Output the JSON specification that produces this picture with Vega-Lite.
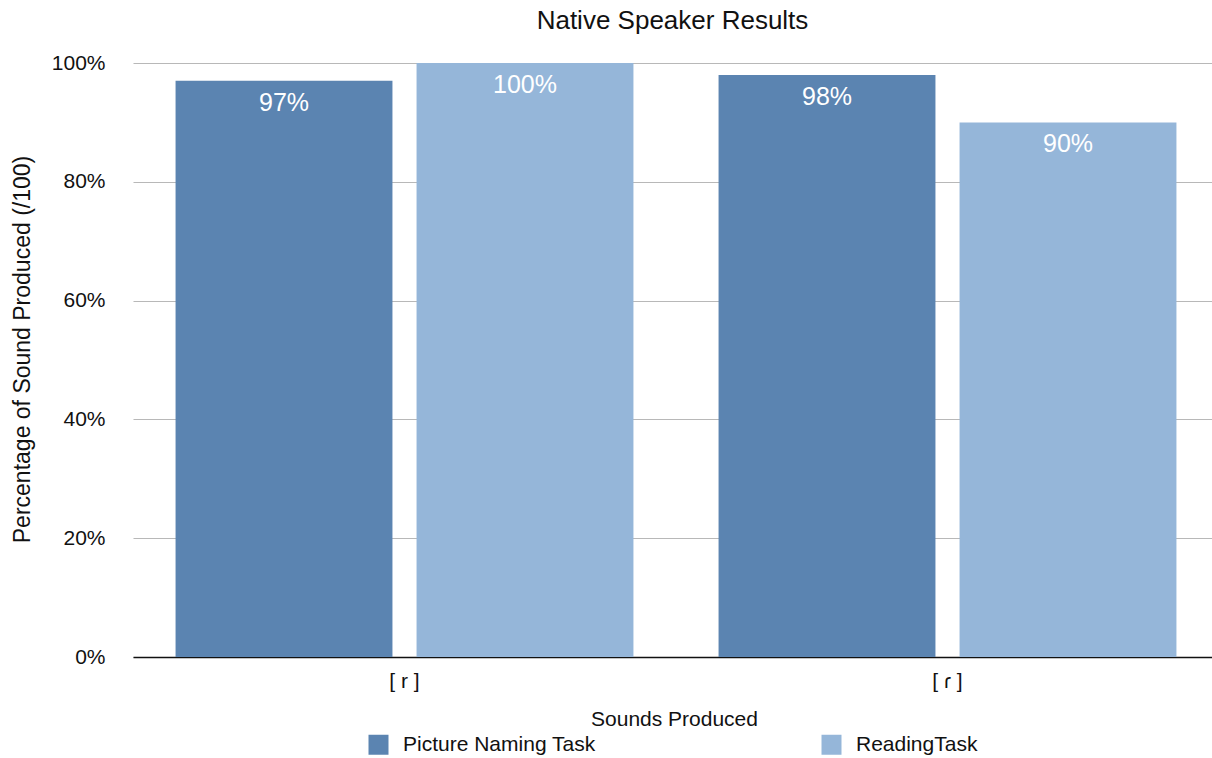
{
  "$schema": "https://vega.github.io/schema/vega-lite/v6.json",
  "width": 1079,
  "height": 594,
  "autosize": {"type": "none"},
  "padding": {"left": 133, "top": 63, "right": 0, "bottom": 101},
  "background": "white",
  "config": {
    "font": "Liberation Sans",
    "view": {"stroke": null}
  },
  "title": {
    "text": "Native Speaker Results",
    "fontSize": 26,
    "fontWeight": "normal",
    "color": "#111",
    "anchor": "middle",
    "offset": 18
  },
  "data": {
    "values": [
      {"sound": "[ r ]", "task": "Picture Naming Task", "value": 0.97},
      {"sound": "[ r ]", "task": "ReadingTask", "value": 1.0},
      {"sound": "[ ɾ ]", "task": "Picture Naming Task", "value": 0.98},
      {"sound": "[ ɾ ]", "task": "ReadingTask", "value": 0.9}
    ]
  },
  "encoding": {
    "x": {
      "field": "sound",
      "type": "nominal",
      "sort": null,
      "scale": {"paddingInner": 0, "paddingOuter": 0, "range": [0, 1086]},
      "axis": {
        "title": "Sounds Produced",
        "titleFontSize": 21,
        "titleFontWeight": "normal",
        "titleColor": "#111",
        "titleY": 62,
        "titleX": 541,
        "titleBaseline": "middle",
        "labelAngle": 0,
        "labelFontSize": 21,
        "labelColor": "#111",
        "labelPadding": 13,
        "ticks": false,
        "domainColor": "#111",
        "domainWidth": 1.5
      }
    },
    "xOffset": {
      "field": "task",
      "type": "nominal",
      "sort": null,
      "scale": {"paddingInner": 0.1, "paddingOuter": 0.1766}
    },
    "y": {
      "field": "value",
      "type": "quantitative",
      "scale": {"domain": [0, 1], "nice": false},
      "axis": {
        "title": "Percentage of Sound Produced (/100)",
        "titleFontSize": 23,
        "titleFontWeight": "normal",
        "titleColor": "#111",
        "titleX": -111,
        "titleY": 286,
        "titleAlign": "center",
        "titleBaseline": "middle",
        "format": ".0%",
        "values": [0, 0.2, 0.4, 0.6, 0.8, 1.0],
        "labelFontSize": 21,
        "labelColor": "#111",
        "labelPadding": 28,
        "ticks": false,
        "domain": false,
        "gridColor": "#b8b8b8",
        "gridWidth": 1.2
      }
    }
  },
  "layer": [
    {
      "mark": {"type": "bar"},
      "encoding": {
        "color": {
          "field": "task",
          "type": "nominal",
          "sort": null,
          "scale": {"domain": ["Picture Naming Task", "ReadingTask"], "range": ["#5b84b1", "#95b6d9"]},
          "legend": {
            "title": null,
            "orient": "none",
            "direction": "horizontal",
            "columns": 2,
            "legendX": 235,
            "legendY": 671,
            "symbolType": "square",
            "symbolSize": 400,
            "symbolStrokeWidth": 0,
            "symbolOpacity": 1,
            "labelFontSize": 21,
            "labelColor": "#111",
            "labelOffset": 14,
            "columnPadding": 225,
            "labelLimit": 400
          }
        }
      }
    },
    {
      "mark": {"type": "text", "baseline": "top", "dy": 10, "color": "white", "fontSize": 25},
      "encoding": {
        "text": {"field": "value", "type": "quantitative", "format": ".0%"}
      }
    }
  ]
}
